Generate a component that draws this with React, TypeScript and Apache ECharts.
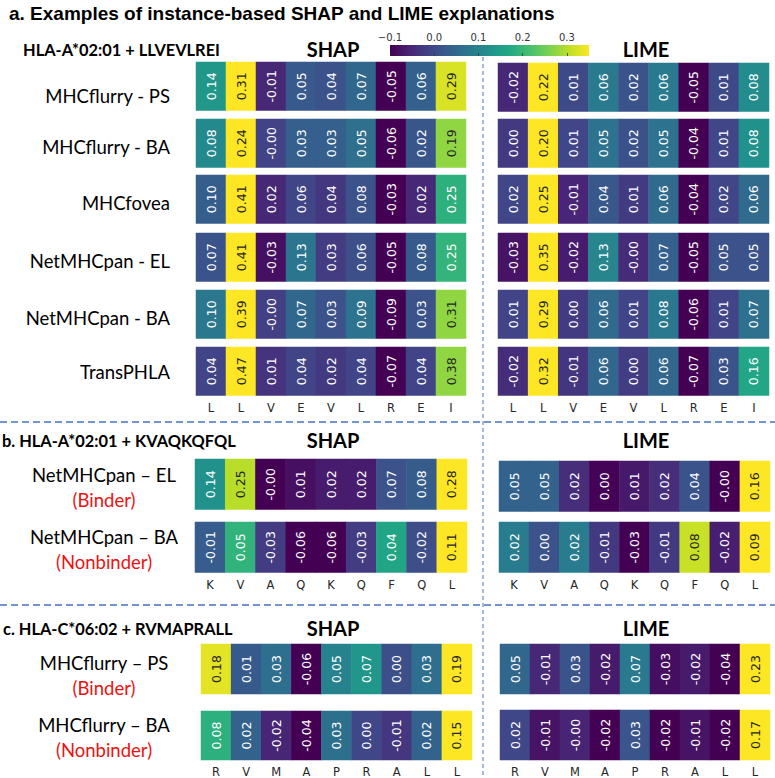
import React, { useEffect, useRef } from "react";
import * as echarts from "echarts";

// ---------- DATA ----------
const PEPTIDE_A = ["L", "L", "V", "E", "V", "L", "R", "E", "I"];
const PEPTIDE_B = ["K", "V", "A", "Q", "K", "Q", "F", "Q", "L"];
const PEPTIDE_C = ["R", "V", "M", "A", "P", "R", "A", "L", "L"];

const MODELS_A = ["MHCflurry - PS", "MHCflurry - BA", "MHCfovea", "NetMHCpan - EL", "NetMHCpan - BA", "TransPHLA"];
const MODELS_B = ["NetMHCpan \u2013 EL", "NetMHCpan \u2013 BA"];
const MODELS_C = ["MHCflurry \u2013 PS", "MHCflurry \u2013 BA"];
const STATUS = ["(Binder)", "(Nonbinder)"];

const SHAP_A = [
  [0.14, 0.31, -0.01, 0.05, 0.04, 0.07, -0.05, 0.06, 0.29],
  [0.08, 0.24, -0.001, 0.03, 0.03, 0.05, -0.06, 0.02, 0.19],
  [0.10, 0.41, 0.02, 0.06, 0.04, 0.08, -0.03, 0.02, 0.25],
  [0.07, 0.41, -0.03, 0.13, 0.03, 0.06, -0.05, 0.08, 0.25],
  [0.10, 0.39, -0.001, 0.07, 0.03, 0.09, -0.09, 0.03, 0.31],
  [0.04, 0.47, 0.01, 0.04, 0.02, 0.04, -0.07, 0.04, 0.38],
];
const LIME_A = [
  [-0.02, 0.22, 0.01, 0.06, 0.02, 0.06, -0.05, 0.01, 0.08],
  [0.00, 0.20, 0.01, 0.05, 0.02, 0.05, -0.04, 0.01, 0.08],
  [0.02, 0.25, -0.01, 0.04, 0.01, 0.06, -0.04, 0.02, 0.06],
  [-0.03, 0.35, -0.02, 0.13, -0.001, 0.07, -0.05, 0.05, 0.05],
  [0.01, 0.29, 0.00, 0.06, 0.01, 0.08, -0.06, 0.01, 0.07],
  [-0.02, 0.32, -0.01, 0.06, 0.00, 0.06, -0.07, 0.03, 0.16],
];
const SHAP_B = [
  [0.14, 0.25, -0.001, 0.01, 0.02, 0.02, 0.07, 0.08, 0.28],
  [-0.01, 0.05, -0.03, -0.06, -0.06, -0.03, 0.04, -0.02, 0.11],
];
const LIME_B = [
  [0.05, 0.05, 0.02, 0.00, 0.01, 0.02, 0.04, -0.001, 0.16],
  [0.02, 0.00, 0.02, -0.01, -0.03, -0.01, 0.08, -0.02, 0.09],
];
const SHAP_C = [
  [0.18, 0.01, 0.03, -0.06, 0.05, 0.07, 0.00, 0.03, 0.19],
  [0.08, 0.02, -0.02, -0.04, 0.03, 0.00, -0.01, 0.02, 0.15],
];
const LIME_C = [
  [0.05, -0.01, 0.03, -0.02, 0.07, -0.03, -0.02, -0.04, 0.23],
  [0.02, -0.01, -0.001, -0.02, 0.03, -0.02, -0.01, -0.02, 0.17],
];

const COLORBAR_MIN = -0.1;
const COLORBAR_MAX = 0.35;
const COLORBAR_TICKS = [-0.1, 0.0, 0.1, 0.2, 0.3];

const VIRIDIS = ["#440154", "#482475", "#414487", "#355f8d", "#2a788e", "#21918c", "#22a884", "#44bf70", "#7ad151", "#bddf26", "#fde725"];

// ---------- LAYOUT ----------
const W = 775;
const H = 778;
const PANELS = [
  {
    peptide: PEPTIDE_A, shap: SHAP_A, lime: LIME_A,
    shapLeft: 196, shapWidth: 270, limeLeft: 498, limeWidth: 271,
    shapTops: [62, 119, 175, 233, 290, 347], limeTops: [63, 119, 175, 233, 290, 347], height: 48.5,
  },
  {
    peptide: PEPTIDE_B, shap: SHAP_B, lime: LIME_B,
    shapLeft: 195, shapWidth: 272, limeLeft: 499, limeWidth: 271,
    shapTops: [459, 522], limeTops: [461, 522], height: 50.5,
  },
  {
    peptide: PEPTIDE_C, shap: SHAP_C, lime: LIME_C,
    shapLeft: 201, shapWidth: 271, limeLeft: 500, limeWidth: 270,
    shapTops: [644, 711], limeTops: [644, 710], height: 50,
  },
];
const CB = { left: 390, top: 45, width: 199, height: 11 };

const LABEL_FONT = "Lato, 'Open Sans', sans-serif";
const CELL_FONT = "'DejaVu Sans', sans-serif";
const BLUE = "#4472c4";

export default function App() {
  const ref = useRef<HTMLDivElement>(null);
  useEffect(() => {
    const chart = echarts.init(ref.current!, null, { renderer: "svg" });
    const grids: any[] = [];
    const xAxes: any[] = [];
    const yAxes: any[] = [];
    const series: any[] = [];
    const visualMaps: any[] = [];

    const addRow = (vals: number[], letters: string[], left: number, top: number, width: number, height: number, showLetters: boolean) => {
      const idx = grids.length;
      grids.push({ left, top, width, height, containLabel: false });
      xAxes.push({
        type: "category", gridIndex: idx, data: letters,
        axisLine: { show: false }, axisTick: { show: false }, splitLine: { show: false },
        axisLabel: { show: showLetters, margin: 6, fontFamily: CELL_FONT, fontSize: 11.5, color: "#262626", interval: 0 },
      });
      yAxes.push({ type: "category", gridIndex: idx, data: [""], show: false });
      const mn = Math.min(...vals);
      const mx = Math.max(...vals);
      const sIdx = series.length;
      series.push({
        type: "heatmap", xAxisIndex: idx, yAxisIndex: idx,
        data: vals.map((v, i) => ({
          value: [i, 0, v],
          label: { color: (v - mn) / (mx - mn) > 0.72 ? "#262626" : "#ffffff" },
        })),
        label: {
          show: true, rotate: 90, fontFamily: CELL_FONT, fontSize: 12.5,
          formatter: (p: any) => p.value[2].toFixed(2),
        },
        itemStyle: { borderWidth: 0 },
        emphasis: { disabled: true },
      });
      visualMaps.push({ type: "continuous", show: false, seriesIndex: sIdx, dimension: 2, min: mn, max: mx, inRange: { color: VIRIDIS } });
    };

    PANELS.forEach((p) => {
      const n = p.shap.length;
      p.shap.forEach((row, r) => addRow(row, p.peptide, p.shapLeft, p.shapTops[r], p.shapWidth, p.height, r === n - 1));
      p.lime.forEach((row, r) => addRow(row, p.peptide, p.limeLeft, p.limeTops[r], p.limeWidth, p.height, r === n - 1));
    });

    // colorbar axis
    const cbIdx = grids.length;
    grids.push({ left: CB.left, top: CB.top, width: CB.width, height: CB.height });
    xAxes.push({
      type: "value", gridIndex: cbIdx, position: "top", min: COLORBAR_MIN, max: COLORBAR_MAX,
      axisLine: { show: false }, splitLine: { show: false },
      axisTick: { show: true, length: 3, customValues: COLORBAR_TICKS, lineStyle: { color: "#333", width: 0.8 } },
      axisLabel: {
        customValues: COLORBAR_TICKS, margin: 3, fontFamily: CELL_FONT, fontSize: 10, color: "#333",
        formatter: (v: number) => (v < -1e-9 ? "\u2212" + Math.abs(v).toFixed(1) : Math.abs(v).toFixed(1)),
      },
    });
    yAxes.push({ type: "value", gridIndex: cbIdx, show: false });

    const text = (t: string, x: number, y: number, font: string, fill: string, align = "left") => ({
      type: "text", x, y, silent: true,
      style: { text: t, font, fill, align, verticalAlign: "middle", textAlign: align, textVerticalAlign: "middle" },
    });

    const graphics: any[] = [];
    // colorbar gradient
    graphics.push({
      type: "rect", shape: { x: CB.left, y: CB.top, width: CB.width, height: CB.height }, silent: true,
      style: { fill: new echarts.graphic.LinearGradient(0, 0, 1, 0, VIRIDIS.map((c, i) => ({ offset: i / (VIRIDIS.length - 1), color: c }))) },
    });
    // separators
    graphics.push({ type: "line", shape: { x1: 0, y1: 422, x2: W, y2: 422 }, silent: true, style: { stroke: BLUE, lineWidth: 1.5, lineDash: [7, 4] } });
    graphics.push({ type: "line", shape: { x1: 0, y1: 605, x2: W, y2: 605 }, silent: true, style: { stroke: BLUE, lineWidth: 1.5, lineDash: [7, 4] } });
    graphics.push({ type: "line", shape: { x1: 483, y1: 57, x2: 483, y2: H }, silent: true, style: { stroke: BLUE, lineWidth: 1, lineDash: [4, 3] } });

    // titles
    graphics.push(text("a. Examples of instance-based SHAP and LIME explanations", 9, 13, "bold 19px 'Liberation Sans', Arial, sans-serif", "#000"));
    const headerFont = `bold 16.4px ${LABEL_FONT}`;
    const bigFont = `bold 20px ${LABEL_FONT}`;
    graphics.push(text("HLA-A*02:01 + LLVEVLREI", 23, 49, headerFont, "#000"));
    graphics.push(text("b. HLA-A*02:01 + KVAQKQFQL", 2, 440, headerFont, "#000"));
    graphics.push(text("c. HLA-C*06:02 + RVMAPRALL", 3, 628, headerFont, "#000"));
    [49, 440, 628].forEach((y) => {
      graphics.push(text("SHAP", 333, y, bigFont, "#000", "center"));
      graphics.push(text("LIME", 646, y, bigFont, "#000", "center"));
    });

    // row labels
    const rowFont = `18.5px ${LABEL_FONT}`;
    const labelYA = [96, 147, 203, 261, 318, 372];
    MODELS_A.forEach((m, i) => graphics.push(text(m, 170, labelYA[i], rowFont, "#000", "right")));
    const pairs = [
      { models: MODELS_B, ys: [475, 537] },
      { models: MODELS_C, ys: [663, 725] },
    ];
    pairs.forEach((pp) => {
      pp.models.forEach((m, i) => {
        graphics.push(text(m, 104, pp.ys[i], rowFont, "#000", "center"));
        graphics.push(text(STATUS[i], 104, pp.ys[i] + 25, rowFont, "#ee1111", "center"));
      });
    });

    chart.setOption({
      animation: false,
      backgroundColor: "#ffffff",
      grid: grids,
      xAxis: xAxes,
      yAxis: yAxes,
      visualMap: visualMaps,
      series,
      graphic: graphics,
    });
    return () => chart.dispose();
  }, []);
  return <div ref={ref} style={{ position: "absolute", left: 0, top: 0, width: W, height: H }} />;
}
